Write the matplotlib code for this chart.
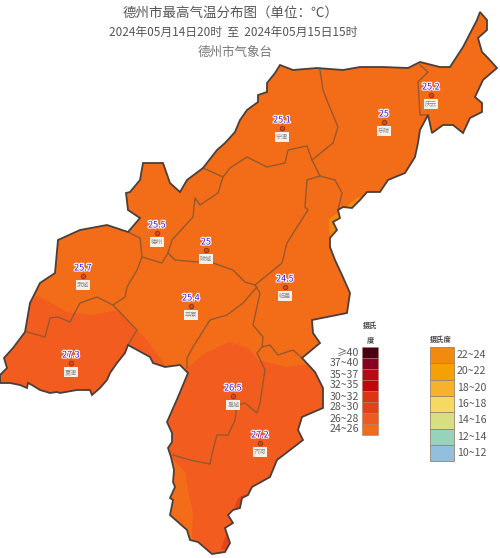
import matplotlib
matplotlib.use('Agg')
import matplotlib.pyplot as plt
from matplotlib.patches import Polygon, Rectangle
import matplotlib.patheffects as pe

plt.rcParams['font.family'] = ['Noto Sans CJK SC', 'DejaVu Sans']

# everything is traced in image pixels, y going down
outline = [
    (480, 12), (487, 20), (487, 30), (478, 38), (482, 52), (488, 58), (497, 68), (483, 80),
    (475, 97), (482, 103), (482, 112), (470, 118), (463, 133), (453, 125), (443, 125), (432, 133),
    (428, 115), (420, 130), (418, 143), (415, 157), (405, 173), (388, 180), (380, 192), (367, 192),
    (360, 200), (352, 208), (343, 207), (338, 210), (340, 218), (333, 222), (337, 230), (330, 238),
    (330, 247), (335, 260), (342, 275), (350, 293), (347, 313), (312, 320), (313, 333), (320, 343),
    (302, 358), (315, 372), (323, 388), (323, 408), (302, 417), (298, 430), (303, 440), (277, 460),
    (270, 477), (252, 487), (248, 495), (242, 498), (240, 508), (233, 510), (228, 515), (233, 523),
    (225, 528), (230, 543), (225, 552), (212, 554), (198, 542), (190, 540), (187, 530), (170, 515),
    (173, 500), (170, 498), (175, 487), (173, 482), (174, 470), (171, 457), (168, 448), (172, 442),
    (172, 433), (167, 422), (178, 397), (188, 373), (180, 365), (165, 367), (153, 363), (150, 357),
    (128, 345), (125, 353), (117, 363), (110, 373), (107, 380), (100, 388), (92, 395), (90, 390),
    (77, 390), (60, 393), (57, 392), (50, 393), (40, 390), (32, 385), (28, 383), (27, 388),
    (20, 385), (10, 383), (0, 383), (0, 375), (7, 368), (4, 358), (13, 348), (25, 332),
    (30, 303), (40, 283), (55, 273), (58, 240), (80, 230), (107, 225), (128, 232), (140, 218),
    (128, 210), (126, 193), (130, 192), (140, 180), (143, 163), (163, 163), (170, 183), (180, 192),
    (187, 180), (203, 168), (217, 150), (225, 143), (235, 132), (240, 120), (247, 110), (258, 102),
    (258, 95), (267, 92), (267, 83), (275, 73), (280, 65), (293, 70), (317, 68), (343, 70),
    (360, 67), (383, 67), (408, 68), (420, 62), (440, 67), (450, 67), (463, 47), (477, 20),
]

borders = [
    [(320, 70), (323, 90), (328, 103), (338, 127), (333, 143), (312, 160), (307, 146), (288, 150),
     (285, 163), (267, 167), (247, 157), (230, 168), (223, 177), (203, 168)],
    [(223, 177), (218, 193), (200, 205), (195, 198), (193, 217), (172, 240), (168, 253), (162, 263),
     (142, 257), (140, 238), (128, 232)],
    [(312, 160), (320, 176), (307, 180), (305, 207), (308, 210), (297, 227), (287, 243), (282, 263), (255, 285)],
    [(320, 176), (335, 180), (342, 193), (338, 210)],
    [(168, 253), (175, 260), (197, 262), (213, 263), (233, 270), (245, 282), (255, 285), (260, 293),
     (253, 325), (263, 337), (262, 347), (270, 345), (278, 355), (293, 350), (302, 358)],
    [(257, 287), (243, 303), (227, 315), (210, 320), (193, 347), (187, 358), (187, 368)],
    [(420, 65), (428, 72), (418, 82), (420, 115), (428, 115)],
    [(142, 257), (137, 270), (127, 287), (125, 297), (113, 305), (97, 297), (80, 303), (70, 322),
     (58, 317), (50, 318), (45, 337), (27, 332)],
    [(113, 305), (137, 330), (128, 345)],
    [(262, 347), (257, 353), (265, 370), (260, 403), (257, 413), (245, 403), (237, 405), (235, 420),
     (228, 435), (217, 435), (213, 450), (210, 464), (190, 460), (173, 455)],
]

# 26~28 areas, clipped to the outline afterwards
zone_sw = [(0, 290), (40, 297), (67, 312), (93, 315), (117, 310), (147, 340), (170, 372), (0, 420)]
zone_south = [(172, 458), (185, 472), (188, 490), (193, 513), (192, 537), (200, 570), (240, 570), (340, 470),
              (340, 365), (302, 365), (287, 367), (258, 360), (248, 348), (230, 342), (207, 352), (187, 368),
              (160, 400), (160, 458)]
# 28~30 corners and the bits of 22~24 on the east edge
zone_hot1 = [(228, 529), (221, 549), (234, 552), (236, 535)]
zone_hot2 = [(233, 512), (243, 505), (245, 494), (238, 498)]
zone_cool1 = [(345, 209), (349, 204), (358, 197), (364, 198), (354, 212)]
zone_cool2 = [(329, 219), (338, 213), (343, 218), (339, 232), (331, 240), (329, 230)]

station_names = ['宁津', '乐陵', '庆云', '德州', '陵城', '临邑', '平原', '武城', '夏津', '禹城', '齐河']
station_temps = ['25.1', '25', '25.2', '25.5', '25', '24.5', '25.4', '25.7', '27.3', '26.5', '27.2']
station_x = [282, 384, 431, 157, 206, 285, 191, 83, 71, 233, 260]
station_y = [128, 122, 95, 233, 250, 287, 306, 276, 363, 396, 443]

legend1_labels = ['≥40', '37~40', '35~37', '32~35', '30~32', '28~30', '26~28', '24~26']
legend1_colors = ['#4a0012', '#8a0022', '#b80a12', '#c4060a', '#dc3414', '#e0421a', '#ee5a20', '#f06c18']
legend2_labels = ['22~24', '20~22', '18~20', '16~18', '14~16', '12~14', '10~12']
legend2_colors = ['#f28a10', '#f5a003', '#f7b12d', '#f5d961', '#d9de80', '#97d3bc', '#92bfdd']

fig = plt.figure(figsize=(5, 5.58), dpi=100)
ax = fig.add_axes([0, 0, 1, 1])
ax.set_xlim(0, 500)
ax.set_ylim(558, 0)
ax.axis('off')

base = Polygon(outline, closed=True, facecolor='#f36c18', edgecolor='none', zorder=1)
ax.add_patch(base)
for pts, col in [(zone_sw, '#f25c1e'), (zone_south, '#f25c1e'), (zone_hot1, '#e4451a'),
                 (zone_hot2, '#e4451a'), (zone_cool1, '#f28a10'), (zone_cool2, '#f28a10')]:
    p = Polygon(pts, closed=True, facecolor=col, edgecolor='none', zorder=2)
    ax.add_patch(p)
    p.set_clip_path(base)

for line in borders:
    ax.plot([q[0] for q in line], [q[1] for q in line], color='#96592f', lw=1.0, zorder=3)
ax.add_patch(Polygon(outline, closed=True, facecolor='none', edgecolor='#4a3f3a', lw=1.3, zorder=4))

halo = [pe.withStroke(linewidth=1.6, foreground='white')]
for name, temp, x, y in zip(station_names, station_temps, station_x, station_y):
    ax.plot(x, y, 'o', ms=3.2, mfc='#d84a18', mec='#8a3a20', mew=0.7, zorder=5)
    ax.text(x, y - 8, temp, color='#3a10e0', fontsize=6.5, ha='center', va='center', path_effects=halo, zorder=6)
    ax.text(x, y + 9, name, color='#8a8a8a', fontsize=4.4, ha='center', va='center', zorder=6,
            bbox=dict(boxstyle='square,pad=0.2', fc='#f4f0ea', ec='none'))

ax.text(230.5, 13, '德州市最高气温分布图（单位：℃）', color='#555555', fontsize=9.7, ha='center', va='center')
ax.text(233, 32, '2024年05月14日20时  至  2024年05月15日15时', color='#555555', fontsize=8.5, ha='center', va='center')
ax.text(235, 52, '德州市气象台', color='#777777', fontsize=9, ha='center', va='center')

# left legend
ax.text(370, 325, '摄氏', color='#444444', fontsize=5.2, fontweight='bold', ha='center', va='center')
ax.text(370, 340, '度', color='#444444', fontsize=5.2, fontweight='bold', ha='center', va='center')
for i, (lab, col) in enumerate(zip(legend1_labels, legend1_colors)):
    ax.add_patch(Rectangle((362, 347 + i * 11), 16, 11, facecolor=col, edgecolor='#a08070', lw=0.4, zorder=2))
    ax.text(359, 352.5 + i * 11, lab, color='#555555', fontsize=7.6, ha='right', va='center')

# right legend
ax.text(441, 339, '摄氏度', color='#444444', fontsize=5.2, fontweight='bold', ha='center', va='center')
for i, (lab, col) in enumerate(zip(legend2_labels, legend2_colors)):
    ax.add_patch(Rectangle((430, 347 + i * 16.3), 24, 16.3, facecolor=col, edgecolor='#9a8468', lw=0.6, zorder=2))
    ax.text(457, 355 + i * 16.3, lab, color='#555555', fontsize=7.6, ha='left', va='center')

fig.savefig('out.png', dpi=100)
